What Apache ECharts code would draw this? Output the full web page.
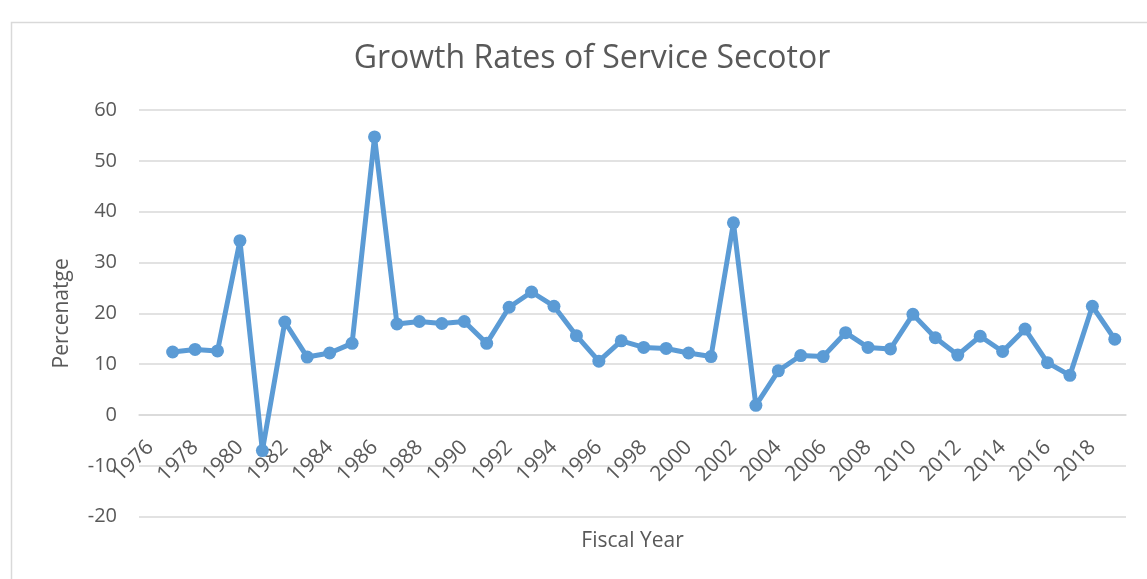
<!DOCTYPE html>
<html>
<head>
<meta charset="utf-8">
<script src="https://cdn.jsdelivr.net/npm/echarts@6/dist/echarts.min.js"></script>
<style>
html,body{margin:0;padding:0;background:#fff;}
#chart{width:1147px;height:579px;}
</style>
</head>
<body>
<div id="chart"></div>
<script>
var titleText = 'Growth Rates of Service Secotor';
var xAxisTitle = 'Fiscal Year';
var yAxisTitle = 'Percenatge';
var years = ['1976','1977','1978','1979','1980','1981','1982','1983','1984','1985',
  '1986','1987','1988','1989','1990','1991','1992','1993','1994','1995',
  '1996','1997','1998','1999','2000','2001','2002','2003','2004','2005',
  '2006','2007','2008','2009','2010','2011','2012','2013','2014','2015',
  '2016','2017','2018','2019'];
var growth = [null, 12.4, 12.9, 12.6, 34.3, -7.0, 18.3, 11.4, 12.2, 14.1,
  54.7, 17.9, 18.4, 18.0, 18.4, 14.1, 21.2, 24.2, 21.4, 15.6,
  10.6, 14.6, 13.3, 13.1, 12.2, 11.5, 37.8, 1.9, 8.7, 11.7,
  11.5, 16.2, 13.3, 13.0, 19.8, 15.2, 11.8, 15.5, 12.5, 16.9,
  10.3, 7.8, 21.4, 14.9];
var yTicks = {min: -20, max: 60, interval: 10};

var chart = echarts.init(document.getElementById('chart'), null, {renderer: 'canvas'});
var textColor = '#595959';
var font = 'Open Sans';
var gridTop = 110, gridBottom = 62.3;
var plotH = 579 - gridTop - gridBottom;
// x axis sits on the y = 0 line: shift it up from the grid bottom
var zeroShift = plotH * (0 - yTicks.min) / (yTicks.max - yTicks.min);
chart.setOption({
  animation: false,
  backgroundColor: '#ffffff',
  graphic: [{
    type: 'rect',
    shape: {x: 11.5, y: 22.5, width: 1200, height: 600},
    style: {fill: 'none', stroke: '#D9D9D9', lineWidth: 1.5},
    silent: true
  }],
  title: {
    text: titleText,
    left: 587,
    top: 38,
    textAlign: 'center',
    textStyle: {fontFamily: font, fontSize: 32, fontWeight: 'normal', color: textColor}
  },
  grid: {left: 139, right: 21, top: gridTop, bottom: gridBottom, containLabel: false, outerBoundsMode: 'none'},
  xAxis: {
    type: 'category',
    data: years,
    boundaryGap: true,
    position: 'bottom',
    offset: -zeroShift,
    name: xAxisTitle,
    nameLocation: 'middle',
    nameGap: 115,
    nameTextStyle: {fontFamily: font, fontSize: 21, color: textColor},
    axisLine: {show: true, onZero: false, lineStyle: {color: '#D9D9D9', width: 1.5}},
    axisTick: {show: false},
    axisLabel: {interval: 1, rotate: 45, margin: 29, fontFamily: font, fontSize: 21, color: textColor},
    splitLine: {show: false}
  },
  yAxis: {
    type: 'value',
    min: yTicks.min,
    max: yTicks.max,
    interval: yTicks.interval,
    name: yAxisTitle,
    nameLocation: 'middle',
    nameGap: 66,
    nameRotate: 90,
    nameTextStyle: {fontFamily: font, fontSize: 21, color: textColor},
    axisLine: {show: false},
    axisTick: {show: false},
    axisLabel: {margin: 22, fontFamily: font, fontSize: 20, color: textColor},
    splitLine: {show: true, lineStyle: {color: '#D9D9D9', width: 1.5}}
  },
  series: [{
    type: 'line',
    data: growth,
    connectNulls: false,
    symbol: 'circle',
    symbolSize: 13,
    showSymbol: true,
    lineStyle: {color: '#5B9BD5', width: 5, join: 'round'},
    itemStyle: {color: '#5B9BD5'}
  }]
});
</script>
</body>
</html>
